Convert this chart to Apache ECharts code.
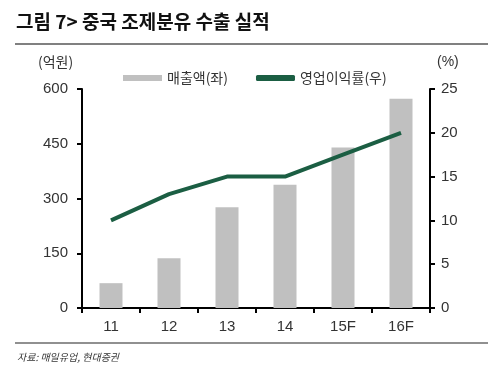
<!DOCTYPE html>
<html><head><meta charset="utf-8">
<script src="https://cdn.jsdelivr.net/npm/echarts@6/dist/echarts.min.js"></script>
<style>html,body{margin:0;padding:0;background:#fff}#c{width:488px;height:372px}</style>
</head><body><div id="c"></div>
<script>
var categories = ['11','12','13','14','15F','16F'];
var sales = [68, 136, 276, 338, 440, 573];
var margin = [10, 13, 15, 15, 17.5, 20];
var leftTicks = [0, 150, 300, 450, 600];
var rightTicks = [0, 5, 10, 15, 20, 25];
var salesName = '매출액(좌)';
var marginName = '영업이익률(우)';

var F = '"Liberation Sans","Noto Sans CJK KR",sans-serif';
var K = '"Noto Sans CJK KR",sans-serif';
var chart = echarts.init(document.getElementById('c'));
chart.setOption({
  animation: false,
  grid: {left: 82, right: 58, top: 89, bottom: 64},
  legend: {
    left: 118, top: 66, itemGap: 28, itemWidth: 39, itemHeight: 6,
    textStyle: {fontFamily: K, fontSize: 14, color: '#333', padding: [0,0,0,0]},
    data: [{name: salesName, icon: 'rect'}, {name: marginName, icon: 'roundRect', itemStyle:{color:'#1b5e43'}}]
  },
  xAxis: {
    type: 'category', data: categories,
    axisLine: {lineStyle: {color: '#000', width: 2}},
    axisTick: {show: true, alignWithLabel: false, length: 5, lineStyle: {color:'#000', width: 2}},
    axisLabel: {fontFamily: F, fontSize: 15, color: '#333', margin: 11}
  },
  yAxis: [
    {type: 'value', min: 0, max: 600, interval: 150, splitLine: {show: false},
     axisLine: {show: true, lineStyle: {color: '#000', width: 2}},
     axisTick: {show: true, length: 5, lineStyle: {color:'#000', width: 2}},
     axisLabel: {fontFamily: F, fontSize: 15, color: '#333', margin: 14,
       formatter: function(v){ return leftTicks.indexOf(v) >= 0 ? String(v) : ''; }}},
    {type: 'value', min: 0, max: 25, interval: 5, splitLine: {show: false},
     axisLine: {show: true, lineStyle: {color: '#000', width: 2}},
     axisTick: {show: true, length: 5, lineStyle: {color:'#000', width: 2}},
     axisLabel: {fontFamily: F, fontSize: 15, color: '#333', margin: 11,
       formatter: function(v){ return rightTicks.indexOf(v) >= 0 ? String(v) : ''; }}}
  ],
  series: [
    {name: salesName, type: 'bar', data: sales, barWidth: 23, itemStyle: {color: '#c0c0c0'}},
    {name: marginName, type: 'line', yAxisIndex: 1, data: margin, symbol: 'none',
     lineStyle: {color: '#1b5e43', width: 4}, itemStyle: {color: '#1b5e43'}}
  ],
  graphic: [
    {type: 'text', left: 16, top: 12, style: {text: '그림 7> 중국 조제분유 수출 실적', font: 'bold 19px "Noto Sans CJK KR",sans-serif', fill: '#111'}},
    {type: 'rect', shape: {x: 15, y: 43, width: 473, height: 2}, style: {fill: '#808080'}},
    {type: 'text', left: 38, top: 55, style: {text: '(억원)', font: '14px "Noto Sans CJK KR",sans-serif', fill: '#333'}},
    {type: 'text', left: 437, top: 55, style: {text: '(%)', font: '14px "Liberation Sans",sans-serif', fill: '#333'}},
    {type: 'rect', shape: {x: 15, y: 342, width: 473, height: 2}, style: {fill: '#909090'}},
    {type: 'text', left: 17, top: 352, style: {text: '자료: 매일유업, 현대증권', font: 'italic 10px "Noto Sans CJK KR",sans-serif', fill: '#333'}}
  ]
});
</script></body></html>
